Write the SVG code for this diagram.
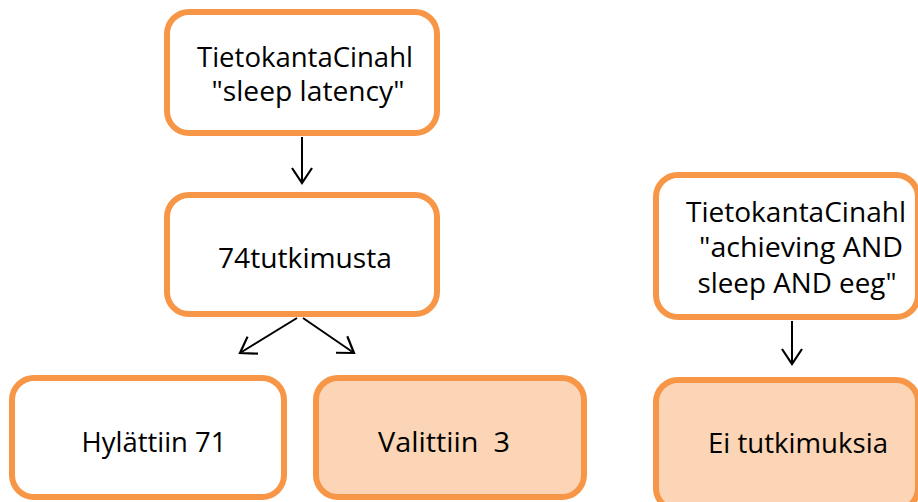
<svg xmlns="http://www.w3.org/2000/svg" width="918" height="502" viewBox="0 0 918 502">
<style>
.box{fill:#ffffff;stroke:#F79646;stroke-width:6}
.sel{fill:#FBD5B5;stroke:#F79646;stroke-width:6}
.t{font-family:"Open Sans","Liberation Sans",Arial,sans-serif;font-size:27.5px;fill:#000;text-anchor:middle}
.c{stroke:#000;stroke-width:2;fill:none}
</style>
<defs>
<marker id="ah" viewBox="0 0 20 24" refX="18" refY="12" markerWidth="20" markerHeight="24" markerUnits="userSpaceOnUse" orient="auto">
<path d="M3,2 L18,12 L3,22" fill="none" stroke="#000" stroke-width="2.2"/>
</marker>
</defs>
<g id="connectors">
<line class="c" x1="302" y1="137" x2="302" y2="183" marker-end="url(#ah)"/>
<line class="c" x1="297" y1="318" x2="240" y2="353" marker-end="url(#ah)"/>
<line class="c" x1="303" y1="318" x2="354" y2="353" marker-end="url(#ah)"/>
<line class="c" x1="792" y1="321" x2="792" y2="364" marker-end="url(#ah)"/>
</g>
<g id="n1">
<rect class="box" x="167" y="12" width="270" height="121" rx="22"/>
<text class="t" x="305" y="67" textLength="216" lengthAdjust="spacingAndGlyphs">TietokantaCinahl</text>
<text class="t" x="308" y="101" textLength="193" lengthAdjust="spacingAndGlyphs">"sleep latency"</text>
</g>
<g id="n2">
<rect class="box" x="167" y="195" width="270" height="119" rx="22"/>
<text class="t" x="305" y="268" textLength="174" lengthAdjust="spacingAndGlyphs">74tutkimusta</text>
</g>
<g id="n3">
<rect class="box" x="12" y="378" width="272" height="119" rx="22"/>
<text class="t" x="154" y="452" textLength="145" lengthAdjust="spacingAndGlyphs">Hylättiin 71</text>
</g>
<g id="n4">
<rect class="sel" x="316" y="378" width="268" height="119" rx="22"/>
<text class="t" x="444" y="452" textLength="132" lengthAdjust="spacingAndGlyphs" xml:space="preserve">Valittiin  3</text>
</g>
<g id="n5">
<rect class="box" x="656" y="175" width="262" height="142" rx="22"/>
<text class="t" x="796" y="222" textLength="220" lengthAdjust="spacingAndGlyphs">TietokantaCinahl</text>
<text class="t" x="801" y="257" textLength="204" lengthAdjust="spacingAndGlyphs">"achieving AND</text>
<text class="t" x="797" y="293" textLength="199" lengthAdjust="spacingAndGlyphs">sleep AND eeg"</text>
</g>
<g id="n6">
<rect class="sel" x="656" y="380" width="262" height="130" rx="22"/>
<text class="t" x="798" y="453" textLength="180" lengthAdjust="spacingAndGlyphs">Ei tutkimuksia</text>
</g>
</svg>
